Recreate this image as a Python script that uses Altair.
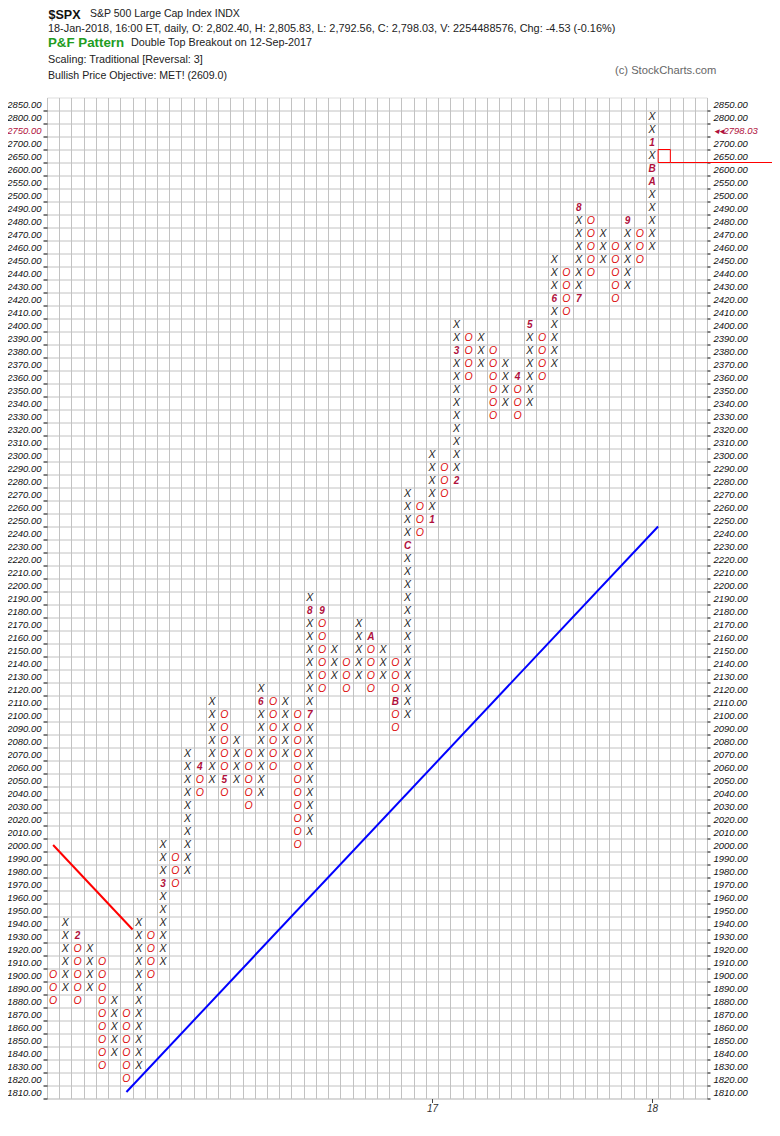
import altair as alt
import pandas as pd

# ---------------- data ----------------
# price rows, bottom to top (10-pt boxes up to 2500, 50-pt boxes above)
ROW_PRICES = [
    1810, 1820, 1830, 1840, 1850, 1860, 1870, 1880, 1890, 1900,
    1910, 1920, 1930, 1940, 1950, 1960, 1970, 1980, 1990, 2000,
    2010, 2020, 2030, 2040, 2050, 2060, 2070, 2080, 2090, 2100,
    2110, 2120, 2130, 2140, 2150, 2160, 2170, 2180, 2190, 2200,
    2210, 2220, 2230, 2240, 2250, 2260, 2270, 2280, 2290, 2300,
    2310, 2320, 2330, 2340, 2350, 2360, 2370, 2380, 2390, 2400,
    2410, 2420, 2430, 2440, 2450, 2460, 2470, 2480, 2490, 2500,
    2550, 2600, 2650, 2700, 2750, 2800, 2850,
]

COL_SYMBOL = ["O", "X"] * 25
COL_LOW = [1880, 1890, 1880, 1890, 1830, 1840, 1820, 1830, 1900, 1910,
           1970, 1980, 2040, 2050, 2040, 2050, 2030, 2040, 2060, 2070,
           2000, 2010, 2120, 2130, 2120, 2130, 2120, 2130, 2090, 2100,
           2240, 2250, 2270, 2280, 2360, 2370, 2330, 2340, 2330, 2340,
           2360, 2370, 2410, 2420, 2440, 2450, 2420, 2430, 2450, 2460]
COL_HIGH = [1900, 1940, 1930, 1920, 1910, 1880, 1870, 1940, 1930, 2000,
            1990, 2070, 2060, 2110, 2100, 2080, 2070, 2120, 2110, 2110,
            2100, 2190, 2180, 2150, 2140, 2170, 2160, 2150, 2140, 2270,
            2260, 2300, 2290, 2400, 2390, 2390, 2380, 2370, 2360, 2400,
            2390, 2450, 2440, 2490, 2480, 2470, 2460, 2480, 2470, 2800]

MONTH_COL = [2, 9, 12, 14, 17, 21, 21, 22, 26, 28, 29, 31, 33, 33, 38, 39, 41, 43, 43, 47, 49, 49, 49]
MONTH_PRICE = [1930, 1970, 2060, 2050, 2110, 2100, 2180, 2180, 2160, 2110, 2230, 2250, 2280, 2380,
               2360, 2400, 2420, 2420, 2490, 2480, 2550, 2600, 2700]
MONTH_TEXT = ["2", "3", "4", "5", "6", "7", "8", "9", "A", "B", "C", "1", "2", "3",
              "4", "5", "6", "7", "8", "9", "A", "B", "1"]

YEAR_TICK_COL = [31, 49]
YEAR_TICK_TEXT = ["17", "18"]

RED_LINE_COL = [0.5, 7.0]
RED_LINE_PRICE = [2000, 1935]
BLUE_LINE_COL = [6.5, 50.0]
BLUE_LINE_PRICE = [1810, 2245]

CURRENT_BOX_COL = 50
CURRENT_BOX_PRICE = 2650
CURRENT_ROW_PRICE = 2750
CURRENT_PRICE = 2798.03

N_COL = 54
N_ROW = len(ROW_PRICES)

# ---------------- tables ----------------
row_of = {p: i for i, p in enumerate(ROW_PRICES)}
month_map = {(c, p): t for c, p, t in zip(MONTH_COL, MONTH_PRICE, MONTH_TEXT)}

recs = []
for c, (s, lo, hi) in enumerate(zip(COL_SYMBOL, COL_LOW, COL_HIGH)):
    for p in ROW_PRICES:
        if lo <= p <= hi:
            if (c, p) in month_map:
                recs.append({"xc": c + 0.5, "row": row_of[p], "sym": month_map[(c, p)], "kind": "M"})
            else:
                recs.append({"xc": c + 0.5, "row": row_of[p], "sym": s, "kind": s})
boxes = pd.DataFrame(recs)

def price_to_row(p):
    return (p - ROW_PRICES[0]) / (ROW_PRICES[1] - ROW_PRICES[0])

lines = pd.DataFrame(
    [{"x": x, "y": price_to_row(p), "line": "red"} for x, p in zip(RED_LINE_COL, RED_LINE_PRICE)]
    + [{"x": x, "y": price_to_row(p), "line": "blue"} for x, p in zip(BLUE_LINE_COL, BLUE_LINE_PRICE)]
)
cur_row = row_of[CURRENT_BOX_PRICE]
cur_box = pd.DataFrame([{"x": CURRENT_BOX_COL, "x2": CURRENT_BOX_COL + 1,
                         "y": cur_row - 0.5, "y2": cur_row + 0.5}])
cur_line = pd.DataFrame([{"x": CURRENT_BOX_COL + 1, "x2": 60, "y": cur_row - 0.5}])

# ---------------- styling ----------------
W, H = 660, 1001
FONT = "Liberation Sans"
GRID = "#c2c2c2"
XCOL = "#1a1a1a"
OCOL = "#dd1111"
MCOL = "#b0103c"

xs = alt.Scale(domain=[0, N_COL], nice=False, zero=False)
ys = alt.Scale(domain=[-0.5, N_ROW - 0.5], nice=False, zero=False)

left_arr = "[" + ",".join(f"'{p:.2f}'" for p in ROW_PRICES) + "]"
right_arr = "[" + ",".join(
    (f"'\u25c2\u25c2{CURRENT_PRICE:.2f}'" if p == CURRENT_ROW_PRICE else f"'{p:.2f}'") for p in ROW_PRICES
) + "]"
cur_label_idx = row_of[CURRENT_ROW_PRICE]
label_color = {"condition": {"test": f"datum.value == {cur_label_idx}", "value": MCOL}, "value": "#111111"}
year_expr = " : ".join(
    f"datum.value == {c + 0.5} ? '{t}'" for c, t in zip(YEAR_TICK_COL, YEAR_TICK_TEXT)
) + " : ''"

grid_x = alt.Axis(values=list(range(N_COL + 1)), grid=True, gridColor=GRID, gridWidth=1,
                  labels=False, ticks=False, domain=False, title=None, orient="bottom")
grid_y = alt.Axis(values=[r - 0.5 for r in range(N_ROW)], grid=True, gridColor=GRID, gridWidth=1,
                  labels=False, ticks=True, tickSize=4, tickColor="#000", domain=False,
                  title=None, orient="left")
lab_x = alt.Axis(values=[c + 0.5 for c in YEAR_TICK_COL], labelExpr=year_expr, grid=False,
                 ticks=True, tickSize=4, tickColor="#444", domain=False, title=None, orient="bottom",
                 labelFont=FONT, labelFontStyle="italic", labelFontSize=10, labelColor="#333",
                 labelPadding=1, labelOverlap=False)
lab_left = alt.Axis(values=list(range(N_ROW)), labelExpr=left_arr + "[datum.value]", grid=False,
                    ticks=False, tickSize=0, domain=False, title=None, orient="left",
                    labelFont=FONT, labelFontStyle="italic", labelFontSize=9.5, labelColor=label_color,
                    labelPadding=6, labelOverlap=False, labelBaseline="middle")
lab_right = alt.Axis(values=list(range(N_ROW)), labelExpr=right_arr + "[datum.value]", grid=False,
                     ticks=False, tickSize=0, domain=False, title=None, orient="right",
                     labelFont=FONT, labelFontStyle="italic", labelFontSize=9.5, labelColor=label_color,
                     labelPadding=6, labelOverlap=False, labelBaseline="middle")
tick_right = alt.Axis(values=[r - 0.5 for r in range(N_ROW)], grid=False, labels=False,
                      ticks=True, tickSize=3, tickColor="#000", domain=False, title=None, orient="right")

base = alt.Chart(boxes)
x_layer = base.transform_filter("datum.kind == 'X'").mark_text(
    font=FONT, fontSize=10.5, fontStyle="italic", color=XCOL, baseline="middle", align="center"
).encode(x=alt.X("xc:Q", scale=xs, axis=grid_x), y=alt.Y("row:Q", scale=ys, axis=grid_y), text="sym:N")
o_layer = base.transform_filter("datum.kind == 'O'").mark_text(
    font=FONT, fontSize=10.5, fontStyle="italic", color=OCOL, baseline="middle", align="center"
).encode(x=alt.X("xc:Q", scale=xs, axis=lab_x), y=alt.Y("row:Q", scale=ys, axis=lab_left), text="sym:N")
m_layer = base.transform_filter("datum.kind == 'M'").mark_text(
    font=FONT, fontSize=10, fontStyle="italic", fontWeight="bold", color=MCOL, baseline="middle", align="center"
).encode(x=alt.X("xc:Q", scale=xs, axis=None), y=alt.Y("row:Q", scale=ys, axis=lab_right), text="sym:N")

line_layer = alt.Chart(lines).mark_line(strokeWidth=2).encode(
    x=alt.X("x:Q", scale=xs, axis=None),
    y=alt.Y("y:Q", scale=ys, axis=tick_right),
    color=alt.Color("line:N", scale=alt.Scale(domain=["red", "blue"], range=["#ff0000", "#0000ff"]), legend=None),
    detail="line:N",
)
box_layer = alt.Chart(cur_box).mark_rect(fillOpacity=0, stroke="#ff0000", strokeWidth=1).encode(
    x=alt.X("x:Q", scale=xs, axis=None), x2="x2:Q",
    y=alt.Y("y:Q", scale=ys, axis=None), y2="y2:Q",
)
hline_layer = alt.Chart(cur_line).mark_rule(color="#ff0000", strokeWidth=1).encode(
    x=alt.X("x:Q", scale=xs, axis=None), x2="x2:Q",
    y=alt.Y("y:Q", scale=ys, axis=None),
)

def htext(txt, x, y, size=10.8, color="#222222", weight="normal", align="left"):
    return alt.Chart(alt.Data(values=[{}])).mark_text(
        text=txt, font=FONT, fontSize=size, color=color, fontWeight=weight,
        align=align, baseline="middle"
    ).encode(x=alt.value(x), y=alt.value(y))

header = [
    htext("$SPX", 1.5, -82.8, size=12.5, color="#111111", weight="bold"),
    htext("S&P 500 Large Cap Index  INDX", 43, -83.2, size=10.5),
    htext("18-Jan-2018, 16:00 ET, daily, O: 2,802.40, H: 2,805.83, L: 2,792.56, C: 2,798.03, "
          "V: 2254488576, Chg: -4.53 (-0.16%)", 1, -68.5, size=10.9),
    htext("P&F Pattern", 1, -54.2, size=13.3, color="#1f9d1f", weight="bold"),
    htext("Double Top Breakout on 12-Sep-2017", 84, -54.2),
    htext("Scaling: Traditional [Reversal: 3]", 1, -37.2),
    htext("Bullish Price Objective: MET! (2609.0)", 1, -21.5, size=10.6),
    htext("(c) StockCharts.com", 568, -26.8, size=11.2, color="#666666"),
]

chart = alt.layer(
    x_layer, o_layer, m_layer, line_layer, box_layer, hline_layer, *header
).resolve_axis(x="independent", y="independent").properties(
    width=W, height=H,
    autosize=alt.AutoSizeParams(type="none"),
    padding={"left": 39, "top": 89.5, "right": 65, "bottom": 14},
).configure_view(stroke=GRID, strokeWidth=1).configure(background="white")

chart.save("out.html", embed_options={"renderer": "svg", "actions": False})
